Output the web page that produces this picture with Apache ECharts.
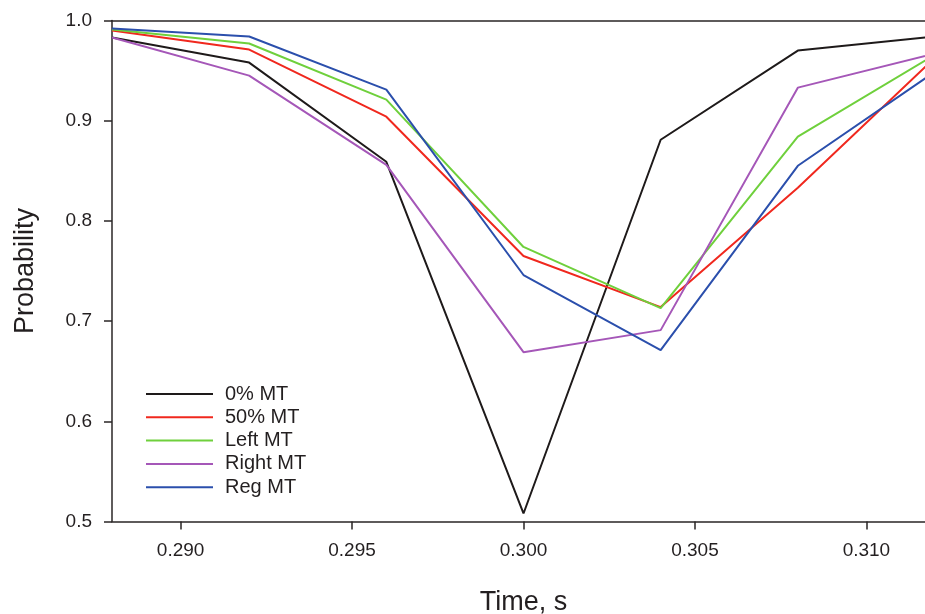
<!DOCTYPE html>
<html>
<head>
<meta charset="utf-8">
<script src="https://cdn.jsdelivr.net/npm/echarts@6/dist/echarts.min.js"></script>
<style>
html,body{margin:0;padding:0;background:#fff;}
#chart{width:925px;height:614px;}
</style>
</head>
<body>
<div id="chart"></div>
<script>
const times = [0.288, 0.292, 0.296, 0.300, 0.304, 0.308, 0.312];
const mt0 = [0.983, 0.958, 0.859, 0.508, 0.881, 0.970, 0.984];
const mt50 = [0.990, 0.971, 0.904, 0.765, 0.714, 0.833, 0.963];
const mtLeft = [0.991, 0.977, 0.921, 0.774, 0.713, 0.884, 0.966];
const mtRight = [0.983, 0.945, 0.856, 0.669, 0.691, 0.933, 0.967];
const mtReg = [0.992, 0.984, 0.931, 0.746, 0.671, 0.855, 0.949];
const seriesNames = ['0% MT', '50% MT', 'Left MT', 'Right MT', 'Reg MT'];
const xTicks = [0.290, 0.295, 0.300, 0.305, 0.310];

const colors = ['#1e1a1a', '#f0281e', '#6fd03c', '#a557b8', '#2b4fac'];
const font = 'Liberation Sans, Arial, Helvetica, sans-serif';
const txt = '#231f20';
const axisCol = '#2a2626';

const allData = [mt0, mt50, mtLeft, mtRight, mtReg];
const chart = echarts.init(document.getElementById('chart'));
chart.setOption({
  animation: false,
  backgroundColor: '#fff',
  grid: { left: 112, top: 20.5, bottom: 92.5, right: -10, containLabel: false, outerBoundsMode: 'none' },
  legend: {
    orient: 'vertical',
    left: 141,
    top: 379,
    itemWidth: 67,
    itemHeight: 14,
    itemGap: 3.3,
    icon: 'path://M0,0 L100,0 L100,3 L0,3 Z',
    textStyle: { fontFamily: font, fontSize: 20, color: txt, lineHeight: 20, padding: [0, 0, 0, 7] },
    data: seriesNames
  },
  xAxis: [{
    type: 'value',
    min: 0.288, max: 0.312,
    name: 'Time, s',
    nameLocation: 'middle',
    nameGap: 68,
    nameTextStyle: { fontFamily: font, fontSize: 27, color: txt },
    axisLine: { show: true, lineStyle: { color: axisCol, width: 1.5 } },
    axisTick: { show: true, inside: false, length: 8, lineStyle: { color: axisCol, width: 1.5 }, customValues: xTicks },
    axisLabel: { fontFamily: font, fontSize: 19, color: txt, margin: 20, customValues: xTicks,
      formatter: v => v.toFixed(3) },
    splitLine: { show: false }
  }, {
    type: 'value',
    position: 'top',
    min: 0.288, max: 0.312,
    axisLine: { show: true, onZero: false, lineStyle: { color: axisCol, width: 1.5 } },
    axisTick: { show: false },
    axisLabel: { show: false },
    splitLine: { show: false }
  }],
  yAxis: {
    type: 'value',
    min: 0.5, max: 1.0, interval: 0.1,
    name: 'Probability',
    nameLocation: 'middle',
    nameGap: 73,
    nameTextStyle: { fontFamily: font, fontSize: 27, color: txt },
    axisLine: { show: true, lineStyle: { color: axisCol, width: 1.5 } },
    axisTick: { show: true, inside: false, length: 8, lineStyle: { color: axisCol, width: 1.5 } },
    axisLabel: { fontFamily: font, fontSize: 19, color: txt, margin: 20, formatter: v => v.toFixed(1) },
    splitLine: { show: false }
  },
  series: seriesNames.map((n, i) => ({
    name: n,
    type: 'line',
    xAxisIndex: 0,
    symbol: 'none',
    color: colors[i],
    lineStyle: { color: colors[i], width: 2 },
    data: times.map((t, j) => [t, allData[i][j]])
  }))
});
</script>
</body>
</html>
